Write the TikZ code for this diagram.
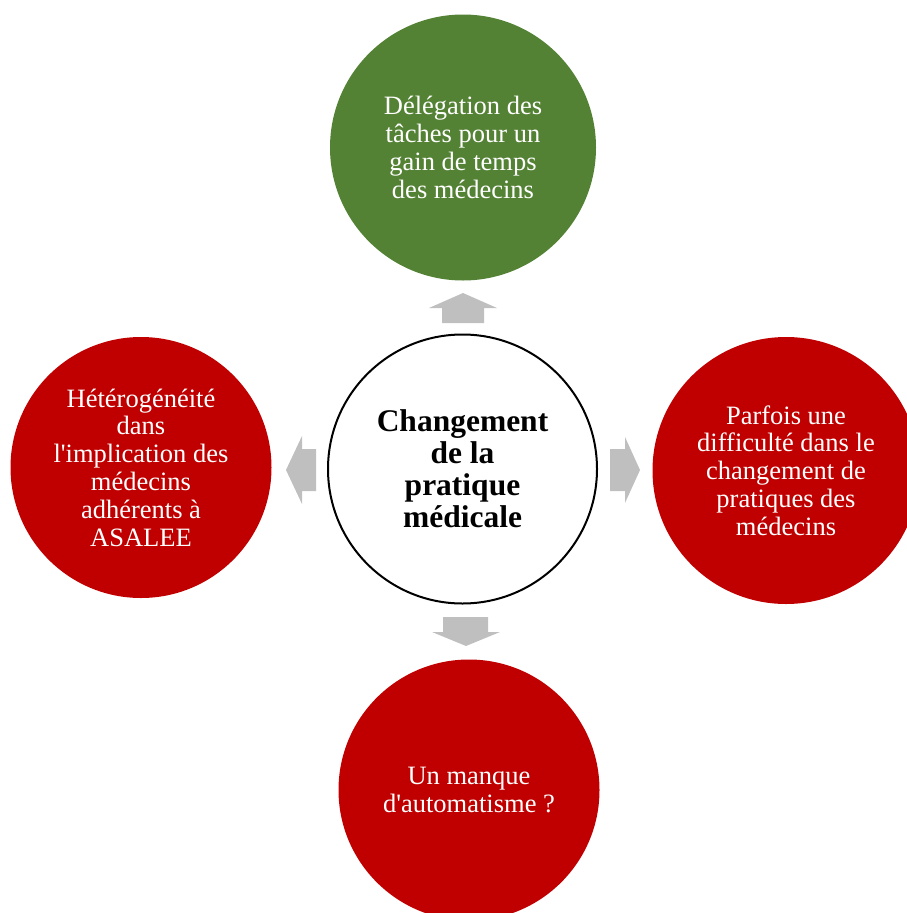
\documentclass[tikz,border=0pt]{standalone}
\usepackage{fontspec}
\setmainfont{Liberation Serif}[Ligatures=ResetAll]
\definecolor{leafgreen}{HTML}{548235}
\definecolor{darkred}{HTML}{C00000}
\definecolor{arrowgray}{HTML}{BFBFBF}
\tikzset{
  bubble/.style={circle, inner sep=0pt, align=center, text=white,
    font=\fontsize{26.5}{27.8}\selectfont},
  redbubble/.style={bubble, fill=darkred, minimum size=261pt},
  greenbubble/.style={bubble, fill=leafgreen, minimum size=266pt},
  hub/.style={circle, draw=black, line width=2pt, fill=white, minimum size=269pt,
    inner sep=0pt, align=center, font=\fontsize{31.5}{32}\selectfont\bfseries},
  blockarrow/.style={fill=arrowgray, draw=none}
}
\begin{document}
\begin{tikzpicture}[x=1pt,y=-1pt]
\useasboundingbox (0,0) rectangle (907,913);
\clip (0,0) rectangle (907,913);
% circles
\node[greenbubble] (top) at (463,147.5) {Délégation des\\tâches pour un\\gain de temps\\des médecins};
\node[redbubble] (left) at (141,467.5) {Hétérogénéité\\dans\\l\textquotesingle implication des\\médecins\\adhérents à\\ASALEE};
\node[redbubble, minimum size=267pt] (right) at (786,470.5) {Parfois une\\difficulté dans le\\changement de\\pratiques des\\médecins};
\node[redbubble] (bottom) at (469,790) {Un manque\\d\textquotesingle automatisme ?};
\node[hub] (center) at (462.5,469) {Changement\\de la\\pratique\\médicale};
% block arrows
\fill[blockarrow] (463,293) -- (497,308) -- (484,308) -- (484,323) -- (442,323) -- (442,308) -- (429,308) -- cycle;
\fill[blockarrow] (466,646) -- (500,632) -- (488,632) -- (488,617) -- (443,617) -- (443,632) -- (432,632) -- cycle;
\fill[blockarrow] (286,470) -- (302,436) -- (302,449) -- (316,449) -- (316,491) -- (302,491) -- (302,504) -- cycle;
\fill[blockarrow] (640,470) -- (625,437) -- (625,449) -- (610,449) -- (610,491) -- (625,491) -- (625,503) -- cycle;
\end{tikzpicture}
\end{document}
